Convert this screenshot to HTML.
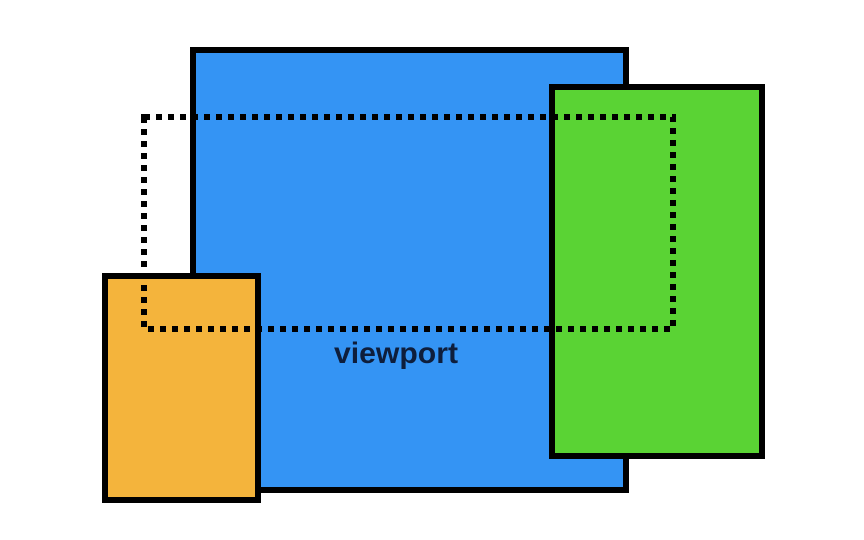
<!DOCTYPE html>
<html>
<head>
<meta charset="utf-8">
<style>
  html, body { margin: 0; padding: 0; background: #ffffff; }
  body { width: 864px; height: 540px; overflow: hidden; }
  svg { display: block; }
</style>
</head>
<body>
<svg width="864" height="540" viewBox="0 0 864 540" xmlns="http://www.w3.org/2000/svg">
  <rect x="0" y="0" width="864" height="540" fill="#ffffff"/>
  <!-- blue -->
  <rect x="193" y="50" width="433" height="440" fill="#3494F4" stroke="#000" stroke-width="6"/>
  <!-- green -->
  <rect x="552" y="87" width="210" height="369" fill="#5AD334" stroke="#000" stroke-width="6"/>
  <!-- orange -->
  <rect x="105" y="276" width="153" height="224" fill="#F4B43C" stroke="#000" stroke-width="6"/>
  <!-- dotted viewport -->
  <rect x="144" y="117" width="529" height="212" fill="none" stroke="#000" stroke-width="6" stroke-dasharray="6 6"/>
  <text x="334" y="363" font-family="Liberation Sans, sans-serif" font-weight="bold" font-size="29.5" fill="#0E1E3C" textLength="124" lengthAdjust="spacingAndGlyphs">viewport</text>
</svg>
</body>
</html>
